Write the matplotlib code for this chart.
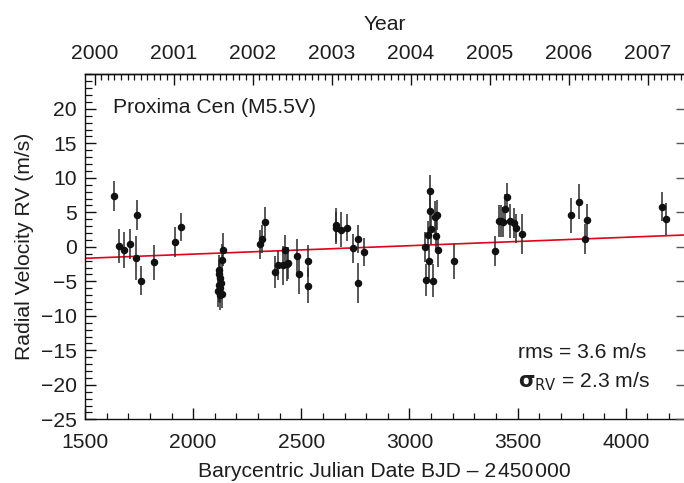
import numpy as np
import matplotlib
matplotlib.use("Agg")
import matplotlib.pyplot as plt
from matplotlib.ticker import MultipleLocator, FixedLocator

plt.rcParams['font.family'] = ['Liberation Sans', 'DejaVu Sans']

# ---- data (BJD - 2450000, RV in m/s, error in m/s) ----
bjd = [1633, 1655, 1679, 1706, 1739, 1738, 1761, 1817, 1918, 1946,
       2136, 2134, 2121, 2118, 2124, 2128, 2120, 2126, 2116, 2131, 2122,
       2308, 2319, 2334, 2379, 2393, 2413, 2424, 2432, 2439, 2481, 2490, 2530, 2531,
       2658, 2658, 2683, 2709, 2741, 2760, 2764, 2788,
       3071, 3075, 3086, 3089, 3094, 3094, 3099, 3109, 3117, 3128, 3123, 3133, 3205,
       3393, 3412, 3422, 3433, 3442, 3451, 3464, 3484, 3493, 3519,
       3746, 3782, 3811, 3821,
       4168, 4187]
rv = [7.36, 0.12, -0.51, 0.36, 4.65, -1.58, -4.91, -2.25, 0.65, 2.91,
      -0.4, -1.9, -3.4, -4.0, -4.5, -5.2, -5.6, -6.0, -6.4, -6.8, -7.0,
      0.36, 1.13, 3.64, -3.70, -2.68, -2.68, -0.46, -2.49, -2.35, -1.38, -3.99, -5.64, -2.10,
      3.16, 2.68, 2.48, 2.77, -0.22, 1.13, -5.25, -0.75,
      0.01, -4.77, 1.67, -2.10, 8.04, 5.19, 2.62, -4.91, 4.36, 4.65, 1.61, -0.46, -2.10,
      -0.57, 3.70, 3.70, 3.64, 5.52, 7.17, 3.74, 3.41, 2.68, 1.86,
      4.57, 6.54, 1.09, 3.93,
      5.81, 4.07]
err = [2.2, 2.4, 2.6, 2.2, 2.2, 3.2, 2.1, 2.5, 2.2, 2.0,
       2.4, 2.3, 2.2, 2.1, 2.3, 2.2, 2.4, 2.2, 2.3, 2.1, 2.2,
       2.1, 2.1, 2.2, 2.3, 2.1, 2.8, 2.2, 2.4, 2.3, 2.5, 2.8, 2.5, 2.3,
       2.4, 2.3, 2.5, 2.0, 2.1, 2.1, 2.9, 2.0,
       2.2, 2.3, 2.1, 2.4, 2.4, 2.3, 2.2, 2.4, 2.3, 2.2, 2.3, 2.5, 2.5,
       2.2, 2.3, 2.3, 2.2, 2.2, 2.1, 2.4, 2.2, 2.1, 2.9,
       2.5, 2.5, 2.2, 2.3,
       2.1, 2.3]

# linear trend: rv = trend_rv0 + trend_slope * (bjd - trend_x0)
trend_x0 = 1500
trend_rv0 = -1.67
trend_slope = 0.00122  # m/s per day

star_label = "Proxima Cen (M5.5V)"
rms_text = "rms = 3.6 m/s"
sigma_text = r"$\mathbf{\sigma}_{\mathrm{RV}}$ = 2.3 m/s"

xlim = (1500, 4269)
ylim = (-25, 25)
year_ticks = [2000, 2001, 2002, 2003, 2004, 2005, 2006, 2007]

FS = 15.2

# ---- figure ----
fig = plt.figure(figsize=(6.84, 4.83), dpi=100)
ax = fig.add_axes([85 / 684, 63.7 / 483, 599 / 684, 345 / 483])

tc = '#1e1e1e'
ax.errorbar(bjd, rv, yerr=err, fmt='o', color='#111111', ms=4.4,
            elinewidth=1.1, ecolor='#2a2a2a', capsize=0, zorder=3)

xx = np.array(xlim, dtype=float)
ax.plot(xx, trend_rv0 + trend_slope * (xx - trend_x0), color='#e3001b', lw=1.2, zorder=2)

ax.set_xlim(*xlim)
ax.set_ylim(*ylim)
ax.xaxis.set_major_locator(MultipleLocator(500))
ax.xaxis.set_minor_locator(MultipleLocator(100))
ax.set_yticks(np.arange(-25, 21, 5))
ax.yaxis.set_minor_locator(MultipleLocator(1))

ax.tick_params(axis='both', which='both', direction='in', colors='#111111',
               labelcolor=tc, labelsize=FS)
ax.tick_params(axis='x', which='both', top=False, bottom=True, pad=10)
ax.tick_params(axis='y', which='both', left=True, right=False, pad=6)
ax.tick_params(which='major', length=8, width=1.0)
ax.tick_params(which='minor', length=4, width=0.9)
ax.tick_params(axis='y', which='minor', length=5)

# right-side major ticks only
ax2 = ax.twinx()
ax2.set_ylim(*ylim)
ax2.set_yticks(np.arange(-25, 21, 5))
ax2.tick_params(axis='y', direction='in', length=6, width=1.0, colors='#555555', labelright=False)
for s in ax2.spines.values():
    s.set_visible(False)

for s in ['left', 'bottom', 'top']:
    ax.spines[s].set_linewidth(1.0)
    ax.spines[s].set_color('#111111')
ax.spines['right'].set_visible(False)

ax.set_xlabel("Barycentric Julian Date BJD \u2013 2\u200a450\u200a000", fontsize=FS, color=tc, labelpad=7)
ax.set_ylabel("Radial Velocity RV (m/s)", fontsize=FS, color=tc, labelpad=5)

# top year axis
def bjd2yr(x):
    return 2000 + (np.asarray(x) - 1544.5) / 365.25

def yr2bjd(y):
    return 1544.5 + (np.asarray(y) - 2000) * 365.25

sec = ax.secondary_xaxis('top', functions=(bjd2yr, yr2bjd))
sec.set_xticks(year_ticks)
sec.xaxis.set_minor_locator(FixedLocator(np.arange(2000, 2007.6, 1 / 12)))
sec.tick_params(axis='x', which='both', direction='in', colors='#111111',
                labelcolor=tc, labelsize=FS, pad=8)
sec.tick_params(which='major', length=8, width=1.0)
sec.tick_params(which='minor', length=4, width=0.9)
sec.spines['top'].set_linewidth(1.0)
sec.set_xlabel("Year", fontsize=FS, color=tc, labelpad=10)

ax.text((113 - 85) / 599, 0.905, star_label, transform=ax.transAxes,
        fontsize=FS, color=tc, ha='left', va='center')
ax.text((518 - 85) / 599, 0.195, rms_text, transform=ax.transAxes,
        fontsize=FS, color=tc, ha='left', va='center')
ax.text((518 - 85) / 599, 0.108, sigma_text, transform=ax.transAxes,
        fontsize=FS, color=tc, ha='left', va='center')

fig.savefig("out.png", dpi=100)
